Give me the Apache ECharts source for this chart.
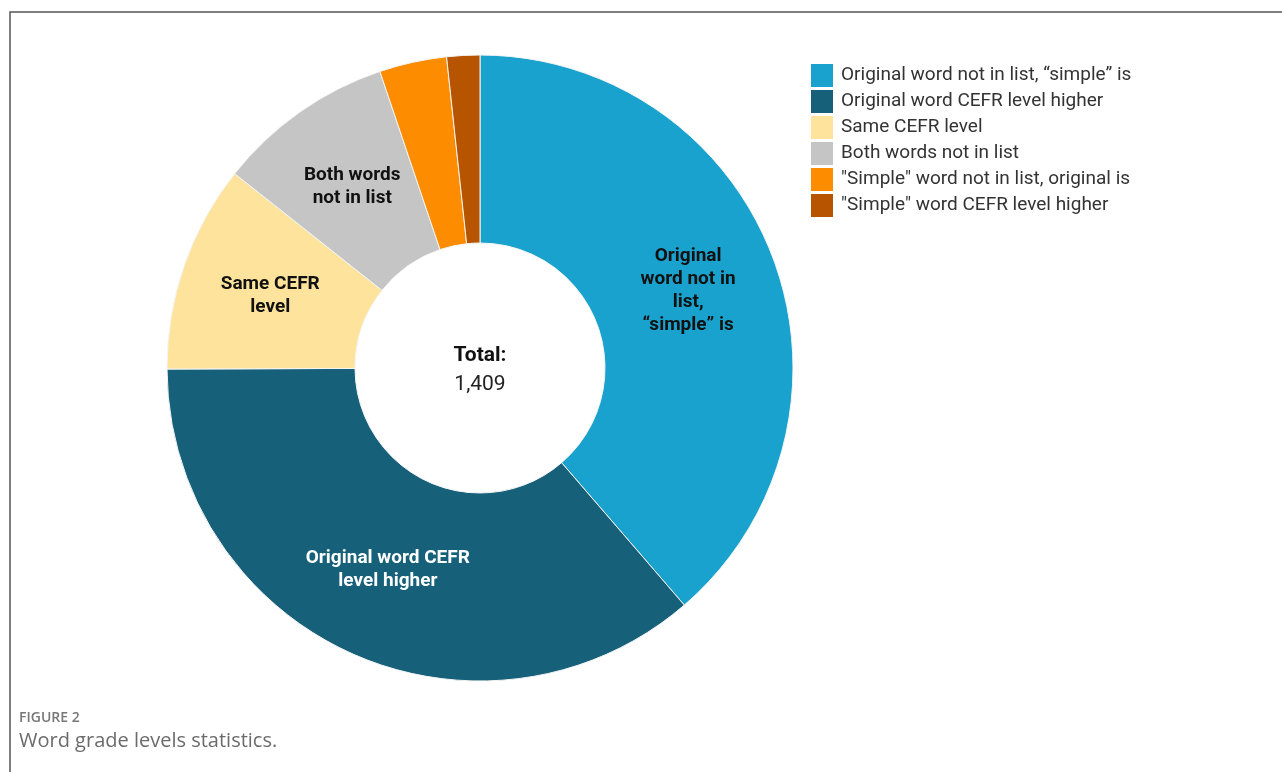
<!DOCTYPE html>
<html>
<head>
<meta charset="utf-8">
<title>Word grade levels statistics</title>
<script src="https://cdn.jsdelivr.net/npm/echarts@6/dist/echarts.min.js"></script>
<style>
  html, body { margin: 0; padding: 0; background: #fff; }
  #chart { width: 1282px; height: 772px; }
</style>
</head>
<body>
<div id="chart"></div>
<script>
// categories (legend order = slice order, clockwise from 12 o'clock)
var categories = [
    'Original word not in list, “simple” is',
    'Original word CEFR level higher',
    'Same CEFR level',
    'Both words not in list',
    '"Simple" word not in list, original is',
    '"Simple" word CEFR level higher'
];
// counts (total 1,409)
var counts = [545, 511, 151, 129, 49, 24];
// text written inside the slices ('' = no label)
var sliceLabels = [
    'Original\nword not in\nlist,\n“simple” is',
    'Original word CEFR\nlevel higher',
    'Same CEFR\nlevel',
    'Both words\nnot in list',
    '',
    ''
];
var colors = ['#1aa2cf', '#16607a', '#fde39c', '#c5c5c5', '#fd8c00', '#b65400'];
var labelColors = ['#111', '#fff', '#111', '#111', '#111', '#111'];

var chart = echarts.init(document.getElementById('chart'));

var total = counts.reduce(function (a, b) { return a + b; }, 0);

var pieData = categories.map(function (name, i) {
    return {
        name: name,
        value: counts[i],
        itemStyle: { color: colors[i] },
        label: {
            show: sliceLabels[i] !== '',
            formatter: sliceLabels[i],
            color: labelColors[i]
        }
    };
});

var option = {
    animation: false,
    legend: {
        orient: 'vertical',
        left: 811,
        top: 64,
        padding: 0,
        itemWidth: 22,
        itemHeight: 23,
        itemGap: 3,
        icon: 'rect',
        selectedMode: false,
        itemStyle: { borderWidth: 0 },
        data: categories,
        textStyle: {
            fontFamily: 'Roboto',
            fontSize: 19,
            lineHeight: 20,
            color: '#333',
            padding: [0, 0, 0, 3]
        }
    },
    graphic: [
        // figure frame
        {
            type: 'rect',
            shape: { x: 10, y: 12, width: 1300, height: 800 },
            style: { fill: 'none', stroke: '#555', lineWidth: 1.5 },
            silent: true
        },
        // centre total
        {
            type: 'text',
            style: {
                text: 'Total:',
                x: 480, y: 356,
                align: 'center', verticalAlign: 'middle',
                font: 'bold 21px Roboto',
                fill: '#111'
            }
        },
        {
            type: 'text',
            style: {
                text: total.toLocaleString('en-US'),
                x: 480, y: 385,
                align: 'center', verticalAlign: 'middle',
                font: '21px Roboto',
                fill: '#222'
            }
        },
        // caption
        {
            type: 'text',
            style: {
                text: 'FIGURE 2',
                x: 19, y: 718,
                verticalAlign: 'middle',
                font: '600 14px "Open Sans"',
                fill: '#777'
            }
        },
        {
            type: 'text',
            style: {
                text: 'Word grade levels statistics.',
                x: 19, y: 741,
                verticalAlign: 'middle',
                font: '20px "Open Sans"',
                fill: '#6b6b6b'
            }
        }
    ],
    series: [
        {
            type: 'pie',
            center: [480, 368],
            radius: [125, 313],
            startAngle: 90,
            clockwise: true,
            avoidLabelOverlap: false,
            emphasis: { disabled: true },
            itemStyle: { borderColor: '#f4f4f4', borderWidth: 1 },
            label: {
                position: 'inside',
                fontFamily: 'Roboto',
                fontWeight: 'bold',
                fontSize: 19,
                lineHeight: 23,
                align: 'center'
            },
            labelLine: { show: false },
            data: pieData
        }
    ]
};

chart.setOption(option);
</script>
</body>
</html>
